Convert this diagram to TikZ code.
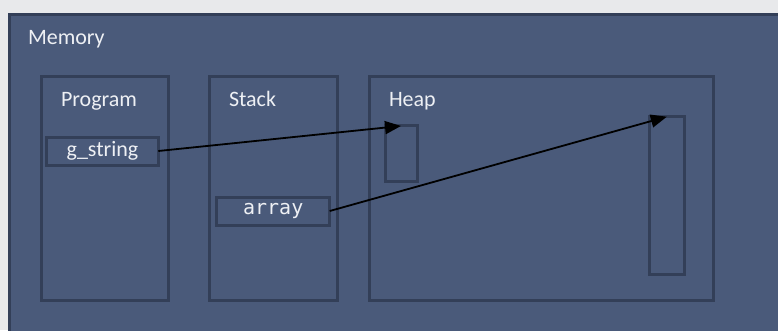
\documentclass[tikz,border=0pt]{standalone}
\usepackage{fontspec}
\setmainfont{Carlito}
\newfontfamily\codefont{DejaVu Sans Mono}
\usetikzlibrary{arrows.meta}
\definecolor{memfill}{HTML}{4A5A7A}
\definecolor{memline}{HTML}{333F58}
\definecolor{pagebg}{HTML}{E8E9EB}
\definecolor{memtext}{HTML}{EEF0F4}

\begin{document}
\begin{tikzpicture}[x=1pt,y=-1pt]
  \tikzstyle{every node} = [text=memtext,
                            font=\fontsize{22}{26}\selectfont,
                            inner sep = 0,
                            outer sep = 0]
  \tikzstyle{area} = [draw=memline, line width=3pt, rectangle]
  \tikzstyle{cell} = [area, minimum height=28pt]
\tikzset{ptr/.style={line width=1.8pt, -{Triangle[length=16pt,width=13pt]}}}

  \useasboundingbox (0,0) rectangle (778,330);
  \clip (0,0) rectangle (778,330);
  \fill[pagebg] (0,0) rectangle (778,330);
  \draw[memline, fill=memfill, line width=3pt] (9,14.3) rectangle (800,350);
  \node[anchor=base west] (memlbl) at (28,44) {Memory};

  % the three regions
  \node[area, minimum width=127.5pt, minimum height=223.5pt] (prog) at (104.75,188.25) {};
  \node[area, minimum width=128pt, minimum height=223.5pt] (stack) at (273,188.25) {};
  \node[area, minimum width=344pt, minimum height=223.5pt] (heap) at (541,188.25) {};
  \node[anchor=base west] (proglbl) at (61,106) {Program};
  \node[anchor=base west] (stacklbl) at (229,106) {Stack};
  \node[anchor=base west] (heaplbl) at (389,106) {Heap};

  % variables
  \node[cell, minimum width=111.6pt] (gstr) at (102.5,151) {g\_string};
  \node[cell, minimum width=113pt, font=\codefont\fontsize{20}{24}\selectfont] (arr) at (273.2,211) {array};

  % heap blocks
  \node[area, minimum width=32pt, minimum height=55.7pt] (hsmall) at (401,153.8) {};
  \node[area, minimum width=35pt, minimum height=157.6pt] (hbig) at (666.8,195.5) {};

  \draw[ptr] (gstr.east) -- (hsmall.north);
  \draw[ptr] (arr.east) -- (hbig.north);
\end{tikzpicture}
\end{document}
